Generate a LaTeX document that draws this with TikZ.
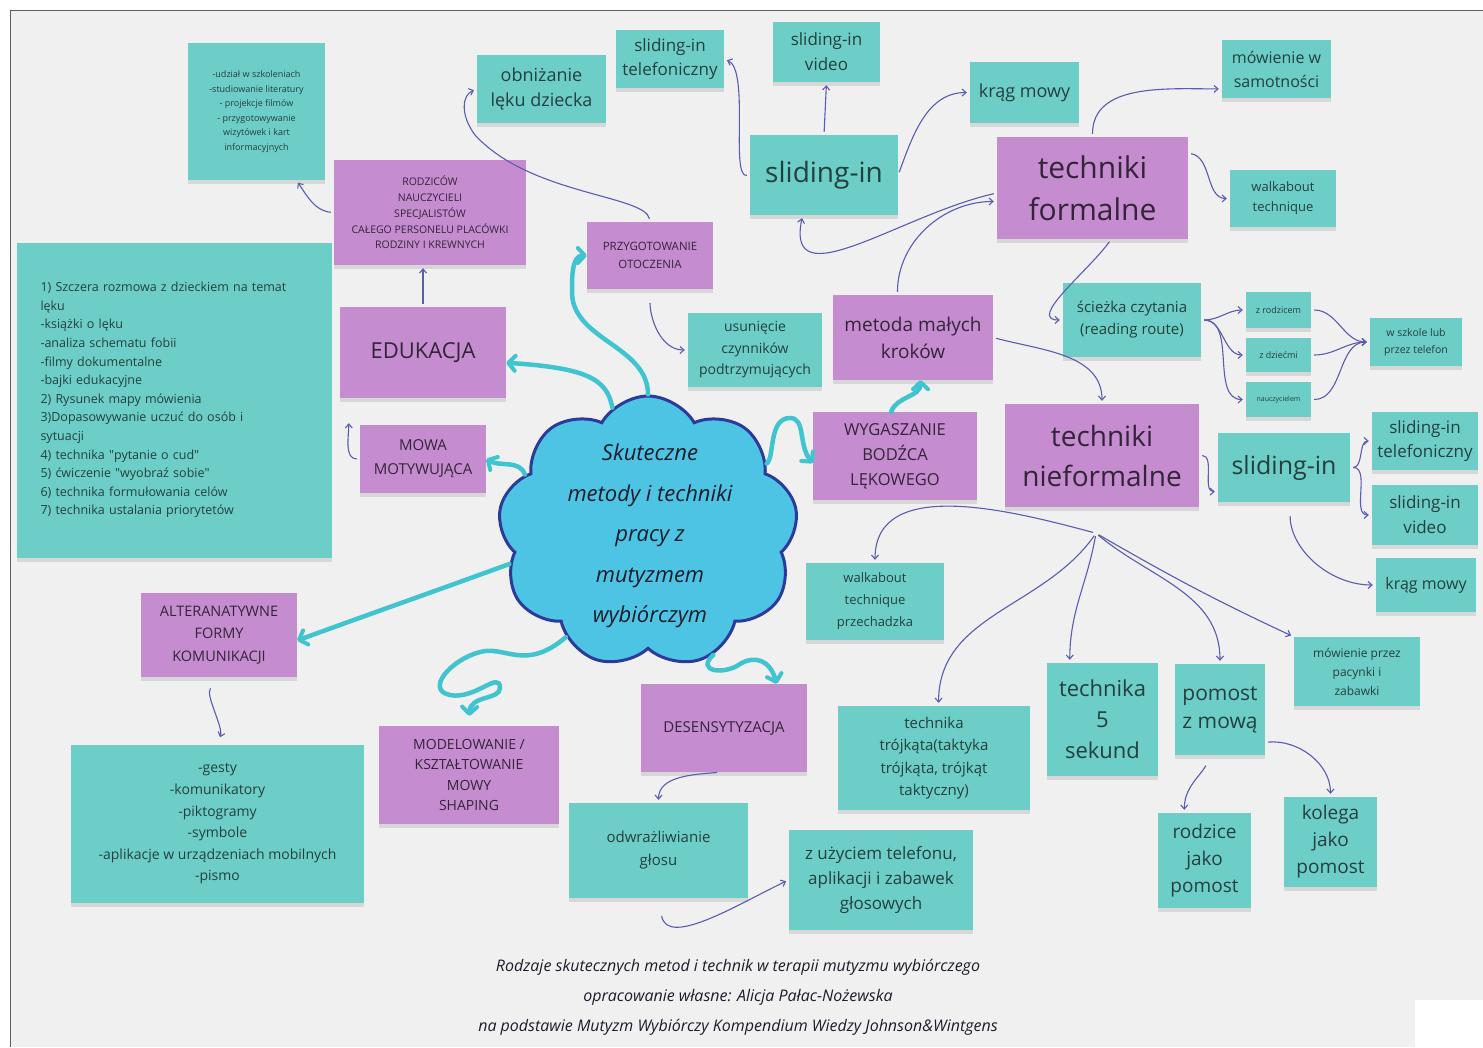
\documentclass[tikz,border=0pt]{standalone}
\usepackage{fontspec}
\setmainfont{Open Sans}
\usetikzlibrary{arrows.meta,shapes.symbols,shadows,calc}
\definecolor{paper}{HTML}{F0F0F0}
\definecolor{frame}{HTML}{5E5E5E}
\definecolor{stick}{HTML}{6DCEC7}
\definecolor{lilac}{HTML}{C58DCF}
\definecolor{tealink}{HTML}{24403E}
\definecolor{lilacink}{HTML}{34243A}
\definecolor{flowc}{HTML}{3FC4D0}
\definecolor{linkc}{HTML}{5A5CAF}
\definecolor{cloudfill}{HTML}{4EC4E4}
\definecolor{cloudline}{HTML}{2C3A9A}
\definecolor{cloudink}{HTML}{1C1C2A}
\newcommand{\fsz}[2]{\fontsize{#1}{#2}\selectfont}

\begin{document}
\begin{tikzpicture}[x=1pt,y=-1pt,
  note/.style={rectangle,align=center,inner sep=2pt,drop shadow={shadow xshift=0pt,shadow yshift=-4pt,opacity=.22}},
  tnote/.style={note,fill=stick,text=tealink},
  pnote/.style={note,fill=lilac,text=lilacink},
  wh/.style 2 args={minimum width=#1,minimum height=#2},
  link/.style={draw=linkc,line width=1.1pt,-{Straight Barb[length=4pt,width=7pt]},shorten <=3pt,shorten >=3pt},
  flow/.style={draw=flowc,line width=4.5pt,line cap=round,-{Straight Barb[length=7pt,width=15pt,line width=4pt,round]}}]
\useasboundingbox (0,0) rectangle (1483,1047);
\fill[white] (0,0) rectangle (1483,1047);
\fill[paper] (10,10) rectangle (1483,1047);
\draw[frame,line width=1pt] (10,1047) -- (10,10) -- (1483,10);
\fill[white] (1415,1000) rectangle (1483,1047);

\node[tnote,wh={137}{137},font=\fsz{9}{14.5}] (udzial) at (256.5,111.5) {-udział w szkoleniach\\ -studiowanie literatury\\ - projekcje filmów\\ - przygotowywanie\\ wizytówek i kart\\ informacyjnych};
\node[tnote,wh={315}{315},align=left,text width=268,font=\fsz{12.5}{18.6}] (lista) at (174.5,400) {1) Szczera rozmowa z dzieckiem na temat\\ lęku\\ -książki o lęku\\ -analiza schematu fobii\\ -filmy dokumentalne\\ -bajki edukacyjne\\ 2) Rysunek mapy mówienia\\ 3)Dopasowywanie uczuć do osób i\\ sytuacji\\ 4) technika \textquotedbl pytanie o cud\textquotedbl\\ 5) ćwiczenie \textquotedbl wyobraź sobie\textquotedbl\\ 6) technika formułowania celów\\ 7) technika ustalania priorytetów};
\node[tnote,wh={129}{68},font=\fsz{18}{25}] (obniz) at (541.5,89) {obniżanie\\ lęku dziecka};
\node[tnote,wh={108}{58},font=\fsz{17}{24}] (teltop) at (670,59) {sliding-in\\ telefoniczny};
\node[tnote,wh={107}{60},font=\fsz{17}{25}] (vidtop) at (826.5,52) {sliding-in\\ video};
\node[tnote,wh={148}{80},font=\fsz{28}{34}] (slidtop) at (824,175) {sliding-in};
\node[tnote,wh={109}{61},font=\fsz{18}{24}] (kragtop) at (1024.5,92.5) {krąg mowy};
\node[tnote,wh={109}{58},font=\fsz{16}{24}] (samot) at (1276.5,69) {mówienie w\\ samotności};
\node[tnote,wh={106}{57},font=\fsz{13}{20}] (walktop) at (1283,198.5) {walkabout\\ technique};
\node[tnote,wh={138}{74},font=\fsz{15}{22}] (sciezka) at (1132,320) {ścieżka czytania\\ (reading route)};
\node[tnote,wh={65}{36},font=\fsz{9}{11}] (zrodz) at (1278.5,310) {z rodzicem};
\node[tnote,wh={65}{34},font=\fsz{9}{11}] (zdzieci) at (1278.5,355) {z dziećmi};
\node[tnote,wh={65}{35},font=\fsz{7}{9}] (naucz) at (1278.5,399.5) {nauczycielem};
\node[tnote,wh={92}{48},font=\fsz{10.5}{17}] (szkola) at (1416,342) {w szkole lub\\ przez telefon};
\node[tnote,wh={134}{74},font=\fsz{14}{21.5}] (usun) at (755,350) {usunięcie\\ czynników\\ podtrzymujących};
\node[tnote,wh={132}{69},font=\fsz{25}{30}] (slidbot) at (1284,467.5) {sliding-in};
\node[tnote,wh={106}{58},font=\fsz{17}{24}] (telbot) at (1425,441) {sliding-in\\ telefoniczny};
\node[tnote,wh={106}{60},font=\fsz{17}{25}] (vidbot) at (1425,515) {sliding-in\\ video};
\node[tnote,wh={100}{54},font=\fsz{16}{22}] (kragbot) at (1426,585) {krąg mowy};
\node[tnote,wh={138}{77},font=\fsz{13}{22}] (walkbot) at (875,601.5) {walkabout\\ technique\\ przechadzka};
\node[tnote,wh={192}{104},font=\fsz{15}{22.5}] (trojkat) at (934,758) {technika\\ trójkąta(taktyka\\ trójkąta, trójkąt\\ taktyczny)};
\node[tnote,wh={111}{113},font=\fsz{22}{31}] (piec) at (1102.5,719.5) {technika\\ 5\\ sekund};
\node[tnote,wh={90}{91},font=\fsz{21}{28}] (pomost) at (1220,709.5) {pomost\\ z mową};
\node[tnote,wh={126}{69},font=\fsz{12}{19}] (pacynki) at (1357,671.5) {mówienie przez\\ pacynki i\\ zabawki};
\node[tnote,wh={93}{95},font=\fsz{19}{27}] (rodzice) at (1204.5,860.5) {rodzice\\ jako\\ pomost};
\node[tnote,wh={93}{90},font=\fsz{19}{27}] (kolega) at (1330.5,842) {kolega\\ jako\\ pomost};
\node[tnote,wh={179}{95},font=\fsz{15}{23}] (odwraz) at (658.5,850.5) {odwrażliwianie\\ głosu};
\node[tnote,wh={184}{100},font=\fsz{17}{25}] (telefon) at (881,880) {z użyciem telefonu,\\ aplikacji i zabawek\\ głosowych};
\node[tnote,wh={293}{158},font=\fsz{14}{21.6}] (gesty) at (217.5,824) {-gesty\\ -komunikatory\\ -piktogramy\\ -symbole\\ -aplikacje w urządzeniach mobilnych\\ -pismo};

\node[pnote,wh={192}{105},font=\fsz{10.5}{15.7}] (grupy) at (430,212.5) {RODZICÓW\\ NAUCZYCIELI\\ SPECJALISTÓW\\ CAŁEGO PERSONELU PLACÓWKI\\ RODZINY I KREWNYCH};
\node[pnote,wh={126}{67},font=\fsz{11.5}{18}] (otocz) at (650,255.5) {PRZYGOTOWANIE\\ OTOCZENIA};
\node[pnote,wh={166}{91},font=\fsz{22}{28}] (eduk) at (423,352.5) {EDUKACJA};
\node[pnote,wh={126}{68},font=\fsz{15}{24}] (mowa) at (423,459) {MOWA\\ MOTYWUJĄCA};
\node[pnote,wh={160}{85},font=\fsz{19}{27}] (kroki) at (913,337.5) {metoda małych\\ kroków};
\node[pnote,wh={191}{102},font=\fsz{30}{42}] (formal) at (1092.5,188) {techniki\\ formalne};
\node[pnote,wh={164}{88},font=\fsz{16.5}{25}] (wygas) at (895,456) {WYGASZANIE\\ BODŹCA\\ LĘKOWEGO};
\node[pnote,wh={194}{103},font=\fsz{28}{40}] (nieform) at (1102,455.5) {techniki\\ nieformalne};
\node[pnote,wh={156}{84},font=\fsz{14.5}{22.5}] (altern) at (219,635) {ALTERANATYWNE\\ FORMY\\ KOMUNIKACJI};
\node[pnote,wh={180}{98},font=\fsz{14}{20.5}] (model) at (469,775) {MODELOWANIE /\\ KSZTAŁTOWANIE\\ MOWY\\ SHAPING};
\node[pnote,wh={166}{88},font=\fsz{15}{20}] (desens) at (724,728) {DESENSYTYZACJA};

\node[cloud,cloud puffs=9,cloud puff arc=120,cloud ignores aspect,draw=cloudline,fill=cloudfill,line width=3pt,minimum width=300,minimum height=272] (chmura) at (648,532) {};
\node[font=\fsz{22}{40.5}\itshape,align=center,text=cloudink] (haslo) at (650,536) {Skuteczne\\ metody i techniki\\ pracy z\\ mutyzmem\\ wybiórczym};
\node[font=\fsz{16}{30}\itshape,align=center,text=cloudink] (podpis) at (738,997) {Rodzaje skutecznych metod i technik w terapii mutyzmu wybiórczego\\ opracowanie własne: Alicja Pałac-Nożewska\\ na podstawie Mutyzm Wybiórczy Kompendium Wiedzy Johnson\&Wintgens};

\coordinate (edukdol) at ($(eduk.south west)+(9,22)$);
\coordinate (wezel) at ($(nieform.south)+(-6,26)$);

\draw[link] (grupy.west) to[out=175,in=-55] (udzial.-60);
\draw[link] (eduk.north) -- (eduk.north |- grupy.south);
\draw[link] (mowa.west) to[out=180,in=-90] (edukdol);
\draw[link] (otocz.north) .. controls (645,195) and (530,195) .. (475,135) .. controls (460,115) and (462,95) .. (obniz.west);
\draw[link,shorten <=14pt] (otocz.south) to[out=-90,in=180] (usun.west);
\draw[link] (slidtop.west) .. controls (730,178) and (750,70) .. (teltop.east);
\draw[link] (slidtop.north) -- (vidtop.south);
\draw[link] (slidtop.east) to[out=70,in=180] (kragtop.west);
\draw[link] (formal.north) to[out=90,in=180] (samot.200);
\draw[link] (formal.20) to[out=-10,in=180] (walktop.west);
\draw[link] (formal.183) .. controls (900,215) and (785,300) .. (slidtop.-118);
\draw[link] (kroki.110) to[out=90,in=180] (formal.188);
\draw[link] (formal.-70) to[out=-125,in=180] (sciezka.west);
\foreach \t in {zrodz,zdzieci,naucz} \draw[link] (sciezka.east) to[out=0,in=180] (\t.west);
\foreach \t in {zrodz,zdzieci,naucz} \draw[link] (\t.east) to[out=0,in=180] (szkola.west);
\draw[link] (kroki.east) to[out=-15,in=90] (nieform.north);
\draw[link] (nieform.east) to[out=0,in=180] (slidbot.200);
\draw[link] (slidbot.east) to[out=0,in=180] (telbot.west);
\draw[link] (slidbot.east) to[out=0,in=180] (vidbot.west);
\draw[link,shorten <=14pt] (slidbot.-80) to[out=-90,in=180] (kragbot.west);
\draw[link] (wezel) to[out=165,in=90] (walkbot.north);
\draw[link] (wezel) to[out=-125,in=90] (trojkat.85);
\draw[link] (wezel) to[out=-100,in=90] (piec.120);
\draw[link] (wezel) to[out=-40,in=90] (pomost.north);
\draw[link] (wezel) to[out=-30,in=155] (pacynki.north west);
\draw[link,shorten <=12pt] (pomost.-100) to[out=-120,in=90] (rodzice.113);
\draw[link] (pomost.-36) to[out=5,in=90] (kolega.north);
\draw[link] (desens.-95) to[out=185,in=90] (odwraz.north);
\draw[link,shorten <=18pt] (odwraz.south) to[out=-80,in=205] (telefon.west);
\draw[link,shorten <=14pt,shorten >=8pt] (altern.south) .. controls +(-14,18) and +(6,-18) .. (gesty.north);

\draw[flow] (chmura.north) .. controls (648,345) and (570,340) .. (572,290) to[out=90,in=180] (otocz.west);
\draw[flow] (chmura.106) .. controls (607,378) and (585,368) .. (eduk.-7);
\draw[flow] (chmura.155) to[out=110,in=-30] (mowa.east);
\draw[flow] (chmura.30) .. controls (775,458) and (768,418) .. (790,418) .. controls (806,418) and (798,445) .. (wygas.185);
\draw[flow] (wygas.95) to[out=70,in=-90] (kroki.-80);
\draw[flow] (chmura.193) to[out=200,in=20] (altern.-4);
\draw[flow,shorten >=10pt] (chmura.232) .. controls (525,672) and (505,645) .. (480,652) .. controls (450,660) and (425,690) .. (450,695) .. controls (475,700) and (500,670) .. (500,688) .. controls (500,700) and (470,695) .. (model.north);
\draw[flow] (chmura.-62) .. controls (695,672) and (725,675) .. (740,664) .. controls (755,655) and (770,660) .. (desens.40);
\end{tikzpicture}
\end{document}
